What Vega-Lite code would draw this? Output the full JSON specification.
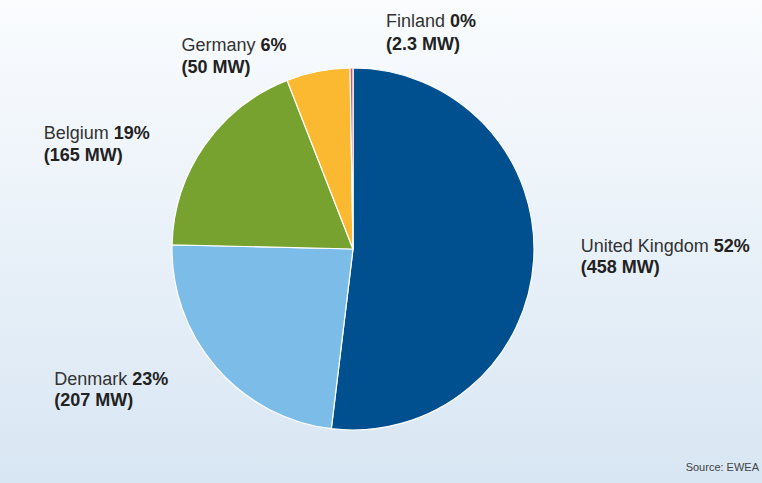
{
  "$schema": "https://vega.github.io/schema/vega-lite/v6.json",
  "width": 686,
  "height": 468,
  "autosize": {"type": "none"},
  "padding": {"left": 10, "top": 15, "right": 66, "bottom": 0},
  "background": "#ffffff",
  "title": {"text": "Source: EWEA", "orient": "top", "anchor": "end", "frame": "group", "offset": 0, "dx": 63, "dy": 732.5, "baseline": "alphabetic", "fontSize": 11, "fontWeight": "normal", "font": "Liberation Sans", "color": "#444444"},
  "data": {"values": [
    {"country": "United Kingdom", "mw": 458, "pct": "52%", "mwLabel": "(458 MW)"},
    {"country": "Denmark", "mw": 207, "pct": "23%", "mwLabel": "(207 MW)"},
    {"country": "Belgium", "mw": 165, "pct": "19%", "mwLabel": "(165 MW)"},
    {"country": "Germany", "mw": 50, "pct": "6%", "mwLabel": "(50 MW)"},
    {"country": "Finland", "mw": 2.3, "pct": "0%", "mwLabel": "(2.3 MW)"}
  ]},
  "layer": [
    {
      "data": {"values": [{"bg": 1}]},
      "mark": {"type": "arc", "radius": 500, "theta": 0, "theta2": 6.2832,
        "fill": {"gradient": "linear", "x1": 0, "y1": 0, "x2": 0, "y2": 1,
          "stops": [{"offset": 0.251, "color": "#fafcfe"}, {"offset": 0.734, "color": "#d8e6f3"}]}},
      "encoding": {}
    },
    {
      "encoding": {
        "theta": {"field": "mw", "type": "quantitative", "stack": true},
        "order": {"field": "mw", "type": "quantitative", "sort": "descending"}
      },
      "layer": [
        {
          "mark": {"type": "arc", "radius": 181, "stroke": "#ffffff", "strokeWidth": 1.2},
          "encoding": {
            "color": {"field": "country", "type": "nominal", "legend": null,
              "scale": {"domain": ["United Kingdom", "Denmark", "Belgium", "Germany", "Finland"],
                        "range": ["#00508f", "#7bbce8", "#77a22f", "#fbb932", "#df4e68"]}}
          }
        },
        {"mark": {"type": "text", "radius": 181, "dx": 47, "dy": -8, "color": "#333333"},
         "encoding": {"text": {"condition": {"test": "datum.country === 'United Kingdom'", "field": "country", "type": "nominal"}, "value": ""}}},
        {"mark": {"type": "text", "radius": 181, "dx": 180, "dy": -8, "fontWeight": "bold", "color": "#222222"},
         "encoding": {"text": {"condition": {"test": "datum.country === 'United Kingdom'", "field": "pct", "type": "nominal"}, "value": ""}}},
        {"mark": {"type": "text", "radius": 181, "dx": 47, "dy": 13.5, "fontWeight": "bold", "color": "#222222"},
         "encoding": {"text": {"condition": {"test": "datum.country === 'United Kingdom'", "field": "mwLabel", "type": "nominal"}, "value": ""}}},

        {"mark": {"type": "text", "radius": 181, "dx": -162, "dy": 17.5, "color": "#333333"},
         "encoding": {"text": {"condition": {"test": "datum.country === 'Denmark'", "field": "country", "type": "nominal"}, "value": ""}}},
        {"mark": {"type": "text", "radius": 181, "dx": -84, "dy": 17.5, "fontWeight": "bold", "color": "#222222"},
         "encoding": {"text": {"condition": {"test": "datum.country === 'Denmark'", "field": "pct", "type": "nominal"}, "value": ""}}},
        {"mark": {"type": "text", "radius": 181, "dx": -162, "dy": 39, "fontWeight": "bold", "color": "#222222"},
         "encoding": {"text": {"condition": {"test": "datum.country === 'Denmark'", "field": "mwLabel", "type": "nominal"}, "value": ""}}},

        {"mark": {"type": "text", "radius": 181, "dx": -161, "dy": -6, "color": "#333333"},
         "encoding": {"text": {"condition": {"test": "datum.country === 'Belgium'", "field": "country", "type": "nominal"}, "value": ""}}},
        {"mark": {"type": "text", "radius": 181, "dx": -91, "dy": -6, "fontWeight": "bold", "color": "#222222"},
         "encoding": {"text": {"condition": {"test": "datum.country === 'Belgium'", "field": "pct", "type": "nominal"}, "value": ""}}},
        {"mark": {"type": "text", "radius": 181, "dx": -161, "dy": 15.5, "fontWeight": "bold", "color": "#222222"},
         "encoding": {"text": {"condition": {"test": "datum.country === 'Belgium'", "field": "mwLabel", "type": "nominal"}, "value": ""}}},

        {"mark": {"type": "text", "radius": 181, "dx": -136.5, "dy": -20.7, "color": "#333333"},
         "encoding": {"text": {"condition": {"test": "datum.country === 'Germany'", "field": "country", "type": "nominal"}, "value": ""}}},
        {"mark": {"type": "text", "radius": 181, "dx": -57.5, "dy": -20.7, "fontWeight": "bold", "color": "#222222"},
         "encoding": {"text": {"condition": {"test": "datum.country === 'Germany'", "field": "pct", "type": "nominal"}, "value": ""}}},
        {"mark": {"type": "text", "radius": 181, "dx": -136.5, "dy": 1.6, "fontWeight": "bold", "color": "#222222"},
         "encoding": {"text": {"condition": {"test": "datum.country === 'Germany'", "field": "mwLabel", "type": "nominal"}, "value": ""}}},

        {"mark": {"type": "text", "radius": 181, "dx": 34.5, "dy": -40.7, "color": "#333333"},
         "encoding": {"text": {"condition": {"test": "datum.country === 'Finland'", "field": "country", "type": "nominal"}, "value": ""}}},
        {"mark": {"type": "text", "radius": 181, "dx": 98.5, "dy": -40.7, "fontWeight": "bold", "color": "#222222"},
         "encoding": {"text": {"condition": {"test": "datum.country === 'Finland'", "field": "pct", "type": "nominal"}, "value": ""}}},
        {"mark": {"type": "text", "radius": 181, "dx": 34.5, "dy": -18, "fontWeight": "bold", "color": "#222222"},
         "encoding": {"text": {"condition": {"test": "datum.country === 'Finland'", "field": "mwLabel", "type": "nominal"}, "value": ""}}}
      ]
    }
  ],
  "config": {
    "view": {"stroke": null},
    "text": {"font": "Liberation Sans", "fontSize": 18, "align": "left", "baseline": "alphabetic"}
  }
}
